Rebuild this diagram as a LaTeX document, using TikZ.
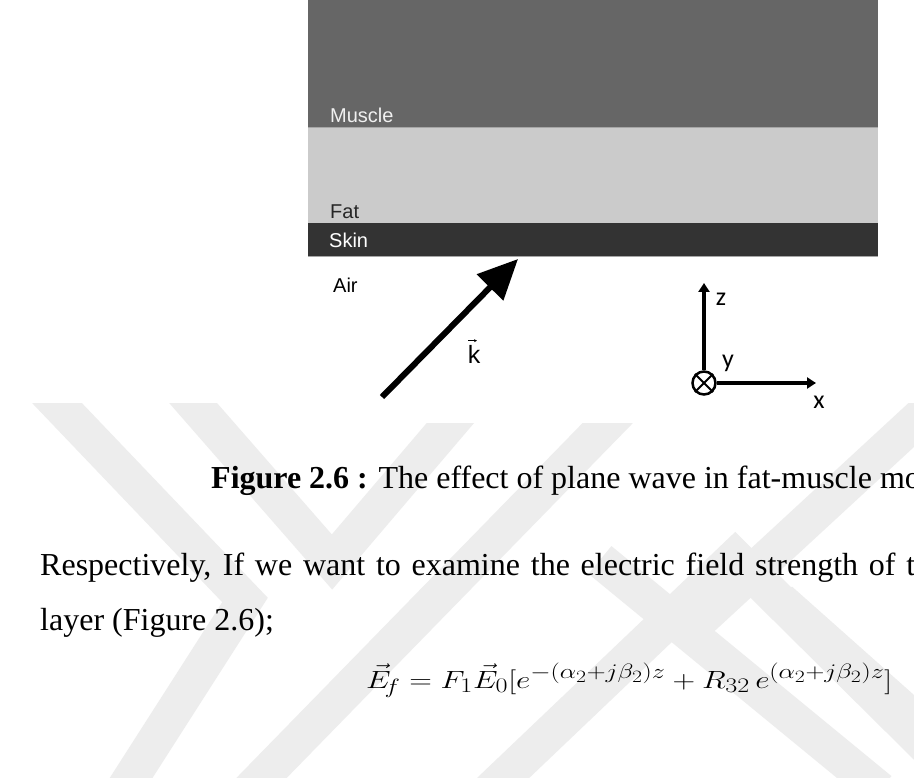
\documentclass[tikz,border=0pt]{standalone}
\usepackage{fontspec}
\setmainfont{Liberation Serif}
\newfontfamily\arialf{Liberation Sans}
\newfontfamily\calibf{Carlito}
\usetikzlibrary{arrows.meta}
\definecolor{wmgray}{HTML}{EDEDED}
\definecolor{musclec}{HTML}{666666}
\definecolor{fatc}{HTML}{CBCBCB}
\definecolor{skinc}{HTML}{333333}
\tikzset{
  wm/.style={draw=wmgray, line width=36pt, line join=miter, miter limit=10},
  lbl/.style={anchor=base west, inner sep=0pt, font=\arialf\fontsize{20}{24}\selectfont},
  axlbl/.style={inner sep=0pt, font=\calibf\fontsize{26}{30}\selectfont},
  body/.style={anchor=base west, inner sep=0pt, font=\fontsize{32}{36}\selectfont},
  thickarrow/.style={line width=6pt, -{Triangle[length=40pt,width=36pt]}},
  axarrow/.style={line width=4pt, -{Triangle[length=9pt,width=11pt]}},
}
\begin{document}
\begin{tikzpicture}[x=1pt,y=-1pt]
\useasboundingbox (0,0) rectangle (914,778);
\clip (0,0) rectangle (914,778);
\fill[white] (0,0) rectangle (914,778);
% watermark
\begin{scope}
\clip (0,403) rectangle (914,778);
\draw[wm] (35,380) -- (245,600) -- (117,800);
\draw[wm] (173,380) -- (332,562) -- (470,400);
\draw[wm] (240,800) -- (640,390);
\draw[wm] (480,800) -- (735,557) -- (960,780);
\draw[wm] (600,560) -- (880,790);
\draw[wm] (780,600) -- (960,760);
\draw[wm] (700,620) -- (960,380);
\end{scope}
% figure box
\fill[white] (300,0) rectangle (884,423);
\fill[musclec] (308,0) rectangle (878,128);
\fill[fatc] (308,128) rectangle (878,223);
\fill[skinc] (308,223) rectangle (878,257);
\draw[gray!70, line width=1pt] (308,127.5) -- (878,127.5);
\draw[gray!70, line width=1pt] (308,257) -- (878,257);
\node[lbl, text=white!94!black] (muscle) at (330,123) {Muscle};
\node[lbl, text=black!85] (fat) at (330,219) {Fat};
\node[lbl, text=white] (skin) at (329,248) {Skin};
\node[lbl, text=black] (air) at (333,293) {Air};
% wave vector
\coordinate (ktail) at (382,397);
\coordinate (ktip) at (518,259);
\draw[thickarrow] (ktail) -- (ktip);
\node[inner sep=0pt, anchor=base, font=\arialf\fontsize{25}{28}\selectfont] (klbl) at (474,363) {k};
\draw[line width=0.8pt, -{Stealth[length=3pt,width=3pt]}] ([xshift=-6pt,yshift=4pt]klbl.north) -- ([xshift=3pt,yshift=4pt]klbl.north);
% axes
\node[circle, draw, line width=2.5pt, minimum size=23pt, inner sep=0pt] (orig) at (704,383) {};
\draw[line width=2pt] (orig.north east) -- (orig.south west);
\draw[line width=2pt] (orig.north west) -- (orig.south east);
\coordinate (zt) at (704,283);
\coordinate (xt) at (816,383);
\draw[axarrow] (orig.north) -- (zt);
\draw[axarrow] (orig.east) -- (xt);
\node[axlbl] (zl) at (721,299) {z};
\node[axlbl] (yl) at (728,363) {y};
\node[axlbl] (xl) at (819,402) {x};
% caption and body text
\node[body] (cap) at (211,488) {\textbf{Figure 2.6 :} The effect of plane wave in fat-muscle mo};
\node[body] (para1) at (40,575) {\hbox to 875pt{Respectively, If we want to examine the electric field strength of t}};
\node[body] (para2) at (40,630) {layer (Figure 2.6);};
\node[anchor=base west, inner sep=0pt] (eq) at (366,688) {\fontsize{32}{38}\selectfont\resizebox{526pt}{\height}{$\vec{E}_{\!f} = F_1\vec{E}_0[e^{-(\alpha_2+j\beta_2)z}+R_{32}\,e^{(\alpha_2+j\beta_2)z}]$}};
\end{tikzpicture}
\end{document}
